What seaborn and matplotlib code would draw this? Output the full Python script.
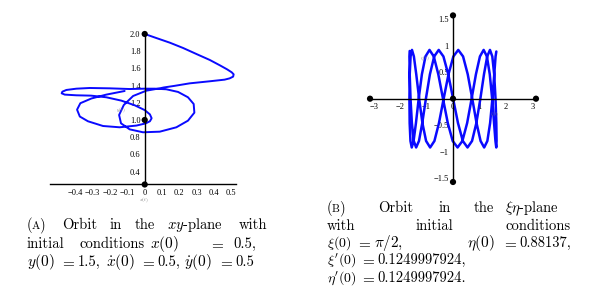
import matplotlib
matplotlib.use("Agg")
import matplotlib.pyplot as plt
import matplotlib.ticker as mticker
import seaborn as sns

sns.set_theme(style="white")
plt.rcParams['font.family'] = ['cmr10', 'DejaVu Serif']
plt.rcParams['mathtext.fontset'] = 'cm'
plt.rcParams['axes.formatter.use_mathtext'] = True

# ---------------- data: orbit in the xy-plane -------------
orbit_x = [0.0, 0.067, 0.145, 0.222, 0.299, 0.376, 0.434, 0.476, 0.503, 0.514, 0.511, 0.491, 0.462,
           0.376, 0.260, 0.170, 0.110, 0.087,
           0.010, -0.067, -0.121, -0.148, -0.137, -0.087, -0.010, 0.087, 0.183, 0.250, 0.287,
           0.283, 0.250, 0.193, 0.125, 0.058,
           0.0, -0.087, -0.202, -0.318, -0.395, -0.453, -0.476, -0.480, -0.462,
           -0.395, -0.310, -0.222, -0.135, -0.058, 0.0, 0.030, 0.040, 0.030, 0.005, -0.048, -0.145,
           -0.241, -0.328, -0.375, -0.391, -0.372, -0.308, -0.222, -0.116]
orbit_y = [2.0, 1.953, 1.899, 1.837, 1.767, 1.698, 1.636, 1.589, 1.554, 1.531, 1.504, 1.484, 1.469,
           1.450, 1.426, 1.396, 1.378, 1.368,
           1.341, 1.279, 1.174, 1.058, 0.961, 0.891, 0.857, 0.864, 0.915, 0.992, 1.085,
           1.186, 1.264, 1.326, 1.357, 1.364,
           1.364, 1.360, 1.368, 1.372, 1.364, 1.349, 1.329, 1.310, 1.295,
           1.287, 1.283, 1.264, 1.225, 1.171, 1.115, 1.065, 1.020, 0.985, 0.960, 0.935, 0.915,
           0.930, 0.985, 1.040, 1.120, 1.195, 1.250, 1.295, 1.337]
xy_dots_x = [0.0, 0.0, 0.0]
xy_dots_y = [2.0, 1.0, 0.25]
xy_xticks = [-0.4, -0.3, -0.2, -0.1, 0.0, 0.1, 0.2, 0.3, 0.4, 0.5]
xy_xlabels = ['\u22120.4', '\u22120.3', '\u22120.2', '\u22120.1', '0', '0.1', '0.2', '0.3', '0.4', '0.5']
xy_yticks = [0.4, 0.6, 0.8, 1.0, 1.2, 1.4, 1.6, 1.8, 2.0]
xy_ylabels = ['0.4', '0.6', '0.8', '1.0', '1.2', '1.4', '1.6', '1.8', '2.0']

# ---------------- data: orbit in the xi-eta plane ---------
orbit_xi = [1.641, 1.612, 1.562, 1.492, 1.405, 1.301, 1.180, 1.044, 0.892, 0.729, 0.558, 0.381,
            0.199, 0.014, -0.171, -0.354, -0.532, -0.703, -0.866, -1.019, -1.158, -1.282, -1.391, -1.481,
            -1.553, -1.606, -1.638, -1.650, -1.641, -1.611, -1.562, -1.492, -1.403, -1.299, -1.178, -1.042,
            -0.890, -0.728, -0.556, -0.379, -0.197, -0.012, 0.173, 0.356, 0.535, 0.705, 0.868, 1.020,
            1.160, 1.284, 1.392, 1.483, 1.555, 1.607, 1.638, 1.650, 1.640, 1.610, 1.559, 1.488,
            1.400, 1.295, 1.173, 1.036, 0.884, 0.721, 0.550, 0.372, 0.189, 0.004, -0.180, -0.363,
            -0.541, -0.712, -0.874, -1.026, -1.164, -1.288, -1.396, -1.485, -1.557, -1.608, -1.639, -1.650,
            -1.640]
orbit_eta = [0.89, 0.797, 0.46, 0.0, -0.46, -0.797, -0.92, -0.797, -0.46, 0.0, 0.46, 0.797,
             0.92, 0.797, 0.46, 0.0, -0.46, -0.797, -0.92, -0.797, -0.46, 0.0, 0.46, 0.797,
             0.92, 0.797, 0.46, 0.0, -0.46, -0.797, -0.92, -0.797, -0.46, 0.0, 0.46, 0.797,
             0.92, 0.797, 0.46, 0.0, -0.46, -0.797, -0.92, -0.797, -0.46, 0.0, 0.46, 0.797,
             0.92, 0.797, 0.46, 0.0, -0.46, -0.797, -0.92, -0.797, -0.46, 0.0, 0.46, 0.797,
             0.92, 0.797, 0.46, 0.0, -0.46, -0.797, -0.92, -0.797, -0.46, 0.0, 0.46, 0.797,
             0.92, 0.797, 0.46, 0.0, -0.46, -0.797, -0.92, -0.797, -0.46, 0.0, 0.46, 0.797,
             0.90]
xe_dots_x = [-3.1416, 3.1416, 0.0, 0.0, 0.0]
xe_dots_y = [0.0, 0.0, 0.0, 1.5708, -1.5708]
xe_xticks = [-3, -2, -1, 0, 1, 2, 3]
xe_xlabels = ['\u22123', '\u22122', '\u22121', '0', '1', '2', '3']
xe_yticks = [-1.5, -1.0, -0.5, 0.5, 1.0, 1.5]
xe_ylabels = ['\u22121.5', '\u22121', '\u22120.5', '0.5', '1', '1.5']

W, H = 597, 297
fig = plt.figure(figsize=(W / 100, H / 100), dpi=100)
fig.patch.set_facecolor('white')

def px_axes(x0, x1, y0, y1):
    return fig.add_axes([x0 / W, 1 - y1 / H, (x1 - x0) / W, (y1 - y0) / H])

BLUE = '#0a0aff'
TICKFONT = dict(family='Liberation Serif', size=6)

# ---------- left panel ----------
ax1 = px_axes(49.55, 241.6, 27.1, 190.5)
ax1.set_xlim(-0.55, 0.56)
ax1.set_ylim(0.18, 2.08)
sns.lineplot(x=orbit_x, y=orbit_y, sort=False, estimator=None, ax=ax1, color=BLUE, lw=1.4)
sns.scatterplot(x=xy_dots_x, y=xy_dots_y, ax=ax1, color='black', s=20, edgecolor='none', zorder=5)
for s in ['top', 'right']:
    ax1.spines[s].set_visible(False)
ax1.spines['left'].set_position(('data', 0))
ax1.spines['bottom'].set_position(('data', 0.25))
ax1.spines['left'].set_bounds(0.25, 2.0)
ax1.spines['bottom'].set_bounds(-0.55, 0.53)
for s in ['left', 'bottom']:
    ax1.spines[s].set_color('black')
    ax1.spines[s].set_linewidth(1.0)
ax1.set_xticks(xy_xticks)
ax1.set_xticklabels(xy_xlabels, fontdict=TICKFONT)
ax1.set_yticks(xy_yticks)
ax1.set_yticklabels(xy_ylabels, fontdict=TICKFONT)
ax1.xaxis.set_minor_locator(mticker.MultipleLocator(0.02))
ax1.yaxis.set_minor_locator(mticker.MultipleLocator(0.05))
ax1.tick_params(which='major', direction='inout', length=3, width=0.6, pad=1.5, colors='black')
ax1.tick_params(which='minor', direction='inout', length=1.5, width=0.5, colors='black')
ax1.patch.set_visible(False)
fig.text(144 / W, 1 - 200 / H, r'$x(t)$', fontsize=3.5, color='#777777', ha='center', va='center')
fig.text(121 / W, 1 - 110 / H, r'$y(t)$', fontsize=3.5, color='#777777', ha='center', va='center')

# ---------- right panel ----------
ax2 = px_axes(363.2, 542.8, 7.5, 189.9)
ax2.set_xlim(-3.4, 3.4)
ax2.set_ylim(-1.72, 1.72)
sns.lineplot(x=orbit_xi, y=orbit_eta, sort=False, estimator=None, ax=ax2, color=BLUE, lw=1.8)
sns.scatterplot(x=xe_dots_x, y=xe_dots_y, ax=ax2, color='black', s=20, edgecolor='none', zorder=5)
for s in ['top', 'right']:
    ax2.spines[s].set_visible(False)
ax2.spines['left'].set_position(('data', 0))
ax2.spines['bottom'].set_position(('data', 0))
ax2.spines['left'].set_bounds(-1.5708, 1.5708)
ax2.spines['bottom'].set_bounds(-3.1416, 3.1416)
for s in ['left', 'bottom']:
    ax2.spines[s].set_color('black')
    ax2.spines[s].set_linewidth(1.0)
ax2.set_xticks(xe_xticks)
ax2.set_xticklabels(xe_xlabels, fontdict=TICKFONT)
ax2.set_yticks(xe_yticks)
ax2.set_yticklabels(xe_ylabels, fontdict=TICKFONT)
ax2.xaxis.set_minor_locator(mticker.MultipleLocator(0.2))
ax2.yaxis.set_minor_locator(mticker.MultipleLocator(0.1))
ax2.tick_params(which='major', direction='inout', length=3, width=0.6, pad=1.5, colors='black')
ax2.tick_params(which='minor', direction='inout', length=1.5, width=0.5, colors='black')
ax2.patch.set_visible(False)
fig.text(425 / W, 1 - 58 / H, r'$\eta(t)$', fontsize=3.5, color='#777777', ha='center', va='center')
fig.text(495 / W, 1 - 114 / H, r'$\xi(t)$', fontsize=3.5, color='#777777', ha='center', va='center')

# ---------- captions ----------
TXT = 10.5
MTH = 11
MTH_S = 10

def put(x, y, s, size=TXT):
    fig.text(x / W, 1 - y / H, s, fontsize=size, ha='left', va='baseline', color='black')

# caption A
put(26.7, 229, '(')
put(32.0, 229, 'A', size=8)
put(39.5, 229, ')')
put(61.7, 229, 'Orbit')
put(110, 229, 'in')
put(135, 229, 'the')
put(166.7, 229, r'$xy$-plane', size=10.5)
put(238.3, 229, 'with')
put(26.7, 247.7, 'initial')
put(79, 247.7, 'conditions')
put(149.5, 247.7, r'$x(0)$', size=MTH)
put(209, 247.7, r'$=$', size=MTH)
put(233.3, 247.7, '0.5,')
put(26.7, 265.7, r'$y(0)$', size=MTH)
put(60, 265.7, r'$=$', size=MTH)
put(77.5, 265.7, '1.5,')
put(105.5, 265.7, r'$\dot{x}(0)$', size=MTH)
put(139.5, 265.7, r'$=$', size=MTH)
put(157, 265.7, '0.5,')
put(184, 265.7, r'$\dot{y}(0)$', size=MTH)
put(218, 265.7, r'$=$', size=MTH)
put(235.5, 265.7, '0.5')

# caption B
put(326.7, 212.3, '(')
put(332.0, 212.3, 'B', size=8)
put(339.0, 212.3, ')')
put(378.3, 212.3, 'Orbit')
put(438.3, 212.3, 'in')
put(473.3, 212.3, 'the')
put(505, 212.3, r'$\xi\eta$-plane', size=10.5)
put(326.7, 230, 'with')
put(415, 230, 'initial')
put(505, 230, 'conditions')
put(327.5, 247, r'$\xi(0)$', size=MTH_S)
put(356.5, 247, r'$=$', size=MTH)
put(374, 247, r'$\pi/2,$', size=MTH)
put(466.7, 247, r'$\eta(0)$', size=MTH)
put(502, 247, r'$=$', size=MTH)
put(519.5, 247, '0.88137,')
put(327.5, 264, r"$\xi'(0)$", size=MTH_S)
put(359.5, 264, r'$=$', size=MTH)
put(377, 264, '0.1249997924,')
put(327.5, 281.7, r"$\eta'(0)$", size=MTH_S)
put(359.5, 281.7, r'$=$', size=MTH)
put(377, 281.7, '0.1249997924.')

fig.savefig('out.png', dpi=100, facecolor='white')
